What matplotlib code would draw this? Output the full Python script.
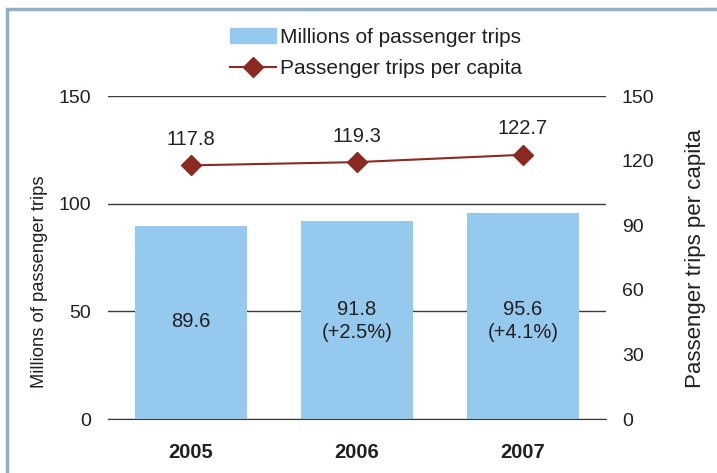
import matplotlib.pyplot as plt
from matplotlib.patches import Rectangle
from matplotlib.lines import Line2D

plt.rcParams['font.family'] = ['Liberation Sans', 'DejaVu Sans']

years = ['2005', '2006', '2007']
trips_millions = [89.6, 91.8, 95.6]
trip_labels = ['89.6', '91.8\n(+2.5%)', '95.6\n(+4.1%)']
trips_per_capita = [117.8, 119.3, 122.7]

bar_color = '#95c9ed'
line_color = '#8b2a22'
text_color = '#231f20'

fig = plt.figure(figsize=(7.17, 4.73), dpi=100)
ax = fig.add_axes([108 / 717, 1 - 419 / 473, 498 / 717, 323 / 473])
ax2 = ax.twinx()

x = range(len(years))
ax.bar(x, trips_millions, width=0.67, color=bar_color, zorder=2)
for i, lab in enumerate(trip_labels):
    ax.text(i, 45.5, lab, ha='center', va='center', fontsize=14.5, color=text_color,
            linespacing=1.25, zorder=3)

ax.set_xlim(-0.5, 2.5)
ax.set_ylim(0, 150)
ax.set_yticks([0, 50, 100, 150])
ax.grid(axis='y', color='#3a3a3a', linewidth=1, zorder=1)
ax.set_xticks(list(x))
ax.set_xticklabels(years, fontsize=14.5, fontweight='bold', color=text_color)
ax.tick_params(axis='x', length=0, pad=17)
ax.tick_params(axis='y', length=0, pad=12, labelsize=14, labelcolor=text_color)

ax2.plot(x, trips_per_capita, color=line_color, marker='D', markersize=10.5,
         linewidth=1.5, zorder=4)
for i, v in enumerate(trips_per_capita):
    ax2.text(i, v + 12, f'{v:.1f}', ha='center', va='center', fontsize=14.5, color=text_color)
ax2.set_ylim(0, 150)
ax2.set_yticks([0, 30, 60, 90, 120, 150])
ax2.tick_params(axis='y', length=0, pad=11.5, labelsize=14, labelcolor=text_color)

# axis titles placed on the figure so they can sit off-centre like the original layout
fig.text(40 / 717, 1 - 282 / 473, 'Millions of passenger trips', rotation=90,
         ha='center', va='center', fontsize=13.2, color=text_color)
fig.text(695 / 717, 1 - 258 / 473, 'Passenger trips per capita', rotation=90,
         ha='center', va='center', fontsize=16, color=text_color)

for a in (ax, ax2):
    for s in a.spines.values():
        s.set_visible(False)
ax.spines['bottom'].set_visible(True)
ax.spines['bottom'].set_color('#3a3a3a')

handles = [Rectangle((0, 0), 1, 1, color=bar_color),
           Line2D([], [], color=line_color, marker='D', markersize=10.5, linewidth=1.5)]
fig.legend(handles, ['Millions of passenger trips', 'Passenger trips per capita'],
           loc='center', bbox_to_anchor=(376 / 717, 1 - 53 / 473), frameon=False,
           fontsize=15, handlelength=2.2, handletextpad=0.2, labelspacing=0.6,
           labelcolor=text_color)

# outer frame running off the right and bottom edges
fig.patches.append(Rectangle((7 / 717, -0.1), 1.2, 1 - 9 / 473 + 0.1,
                             transform=fig.transFigure, fill=False,
                             edgecolor='#8fafc5', linewidth=2.5))

fig.savefig('out.png', dpi=100)
